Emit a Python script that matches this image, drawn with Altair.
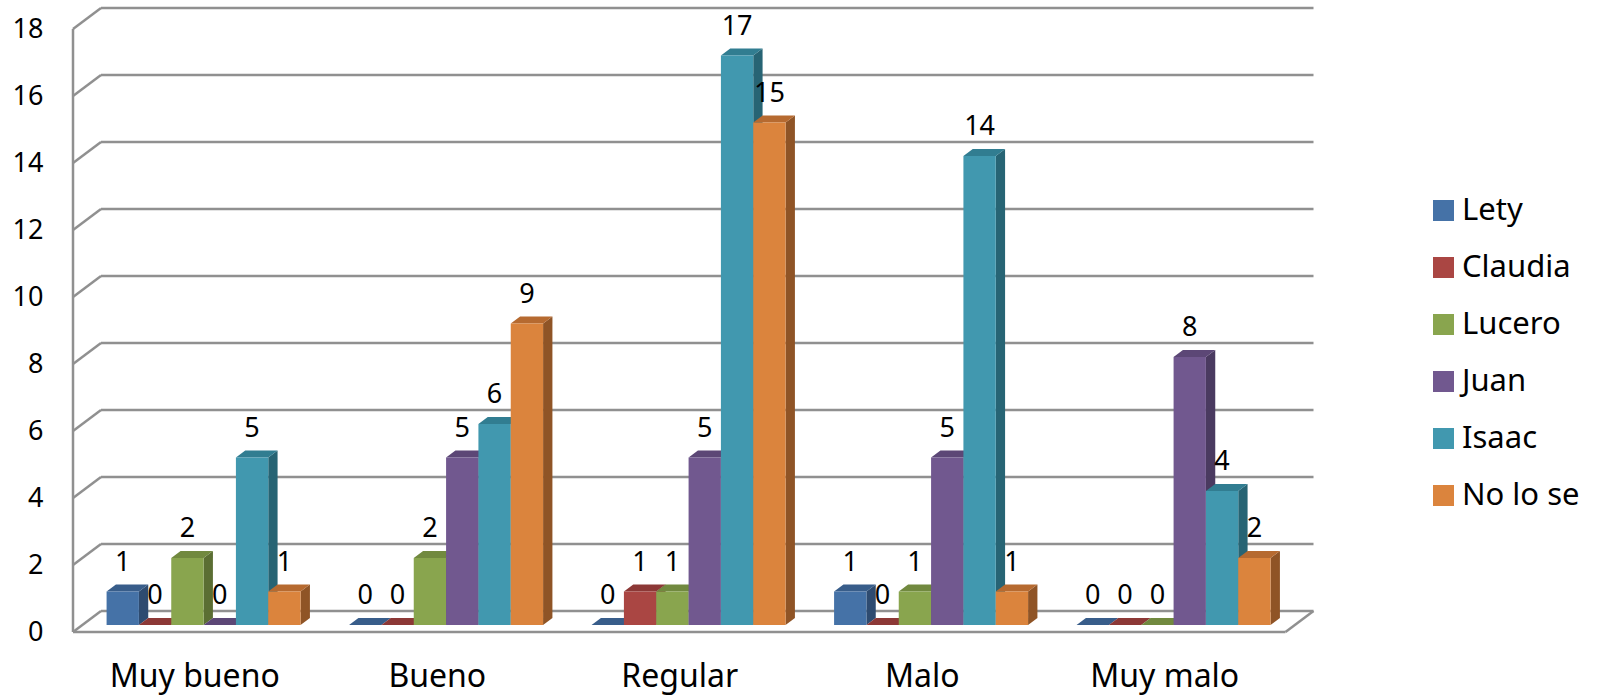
import altair as alt
import pandas as pd

# ---- data -------------------------------------------------------------
categories = ["Muy bueno", "Bueno", "Regular", "Malo", "Muy malo"]
series = ["Lety", "Claudia", "Lucero", "Juan", "Isaac", "No lo se"]

lety = [1, 0, 0, 1, 0]
claudia = [0, 0, 1, 0, 0]
lucero = [2, 2, 1, 1, 0]
juan = [0, 5, 5, 5, 8]
isaac = [5, 6, 17, 14, 4]
no_lo_se = [1, 9, 15, 1, 2]

y_ticks = [0, 2, 4, 6, 8, 10, 12, 14, 16, 18]

# face colours per series: front, top (a bit darker), side (darkest)
front_colors = ["#4572A7", "#AA4643", "#89A54E", "#71588F", "#4198AF", "#DB843D"]
top_colors = ["#385D8A", "#8C3836", "#71893F", "#5C4776", "#317D91", "#B66A30"]
side_colors = ["#2E4B70", "#722D2B", "#5B6E33", "#4A3A60", "#276474", "#8F5426"]

# ---- pseudo-3D geometry ----------------------------------------------
SLOT_PX = 242.5          # pixels per category slot
UNIT_PX = 33.5           # pixels per value unit
DEPTH_PX = (28.0, 21.0)  # how far the back wall sits up and to the right
Y_TOP = 18

DX = DEPTH_PX[0] / SLOT_PX   # depth shift in category units
DY = DEPTH_PX[1] / UNIT_PX   # depth shift in value units
N = len(categories)
PLOT_W = (N + DX) * SLOT_PX
PLOT_H = (Y_TOP + DY) * UNIT_PX

GROUP_PAD = 0.1
BAR_W = (1 - 2 * GROUP_PAD) / len(series)
# bars stand in the middle third of the floor depth
dx3, dy3 = DX / 3, DY / 3

values = [lety, claudia, lucero, juan, isaac, no_lo_se]

front_rows, top_rows, side_rows, label_rows = [], [], [], []
for i, cat in enumerate(categories):
    for j, name in enumerate(series):
        v = values[j][i]
        bar = f"{i}-{j}"
        x0 = i + GROUP_PAD + j * BAR_W + dx3
        x1 = x0 + BAR_W
        y0 = dy3
        y1 = y0 + v
        front_rows.append(dict(bar=bar, serie=name, x=x0, x2=x1, y=y0, y2=y1))
        for px, ya, yb in [(x0, y1, y1), (x0 + dx3, y1 + dy3, y1),
                           (x1, y1 + dy3, y1), (x1 + dx3, y1 + dy3, y1 + dy3)]:
            top_rows.append(dict(bar=bar, fill=top_colors[j], x=px, y=ya, y2=yb))
        for px, ya, yb in [(x1, y1, y0), (x1 + dx3, y1 + dy3, y0 + dy3)]:
            side_rows.append(dict(bar=bar, fill=side_colors[j], x=px, y=ya, y2=yb))
        label_rows.append(dict(x=(x0 + x1) / 2, y=y1, label=str(v)))

# walls and floor outline segments
seg = []
for t in y_ticks:
    seg.append(dict(x=DX, x2=N + DX, y=t + DY, y2=t + DY))   # back wall grid
    seg.append(dict(x=0, x2=DX, y=t, y2=t + DY))              # side wall grid
seg.append(dict(x=0, x2=0, y=0, y2=Y_TOP))                    # front wall edge
seg.append(dict(x=0, x2=N, y=0, y2=0))                        # floor front edge
seg.append(dict(x=N, x2=N + DX, y=0, y2=DY))                  # floor right edge

front_df = pd.DataFrame(front_rows)
top_df = pd.DataFrame(top_rows)
side_df = pd.DataFrame(side_rows)
label_df = pd.DataFrame(label_rows)
seg_df = pd.DataFrame(seg)

FONT = "Noto Sans"
x_scale = alt.Scale(domain=[0, N + DX], nice=False, zero=False)
y_scale = alt.Scale(domain=[0, Y_TOP + DY], nice=False, zero=False)

label_expr = "[" + ",".join(f"'{c}'" for c in categories) + "][round(datum.value - 0.5)]"

walls = alt.Chart(seg_df).mark_rule(color="#909090", strokeWidth=2.5).encode(
    x=alt.X("x:Q", scale=x_scale,
            axis=alt.Axis(values=[i + 0.5 for i in range(N)], labelExpr=label_expr,
                          domain=False, ticks=False, grid=False, labelFont=FONT,
                          labelFontSize=32, labelColor="#000000", labelPadding=29,
                          labelOverlap=False, labelFlush=False, title=None)),
    x2="x2:Q",
    y=alt.Y("y:Q", scale=y_scale,
            axis=alt.Axis(values=y_ticks, domain=False, ticks=False, grid=False,
                          labelFont=FONT, labelFontSize=27, labelColor="#000000",
                          labelPadding=30, title=None)),
    y2="y2:Q",
)

sides = alt.Chart(side_df).mark_area(orient="vertical", strokeWidth=0).encode(
    x=alt.X("x:Q", scale=x_scale),
    y=alt.Y("y:Q", scale=y_scale, stack=False),
    y2="y2:Q",
    detail="bar:N",
    color=alt.Color("fill:N", scale=None),
)

tops = alt.Chart(top_df).mark_area(orient="vertical", strokeWidth=0).encode(
    x=alt.X("x:Q", scale=x_scale),
    y=alt.Y("y:Q", scale=y_scale, stack=False),
    y2="y2:Q",
    detail="bar:N",
    color=alt.Color("fill:N", scale=None),
)

fronts = alt.Chart(front_df).mark_rect(strokeWidth=0).encode(
    x=alt.X("x:Q", scale=x_scale),
    x2="x2:Q",
    y=alt.Y("y:Q", scale=y_scale),
    y2="y2:Q",
    color=alt.Color(
        "serie:N",
        scale=alt.Scale(domain=series, range=front_colors),
        sort=series,
        legend=alt.Legend(
            title=None, orient="none", legendX=1355, legendY=187,
            symbolType="square", symbolSize=441, symbolStrokeWidth=0,
            labelFont=FONT, labelFontSize=31, labelColor="#000000",
            labelOffset=3, rowPadding=25, padding=0,
        ),
    ),
)

labels = alt.Chart(label_df).mark_text(
    font=FONT, fontSize=27, color="#000000", baseline="alphabetic", dy=-21
).encode(
    x=alt.X("x:Q", scale=x_scale),
    y=alt.Y("y:Q", scale=y_scale),
    text="label:N",
)

chart = (
    alt.layer(walls, sides, tops, fronts, labels)
    .properties(
        width=PLOT_W,
        height=PLOT_H,
        autosize=alt.AutoSizeParams(type="none"),
        padding={"left": 73, "top": 8, "right": 1598 - 73 - PLOT_W, "bottom": 699 - 8 - PLOT_H},
        background="#FFFFFF",
    )
    .configure_view(strokeWidth=0)
)

chart.save("out.html", embed_options={"renderer": "svg", "actions": False})
